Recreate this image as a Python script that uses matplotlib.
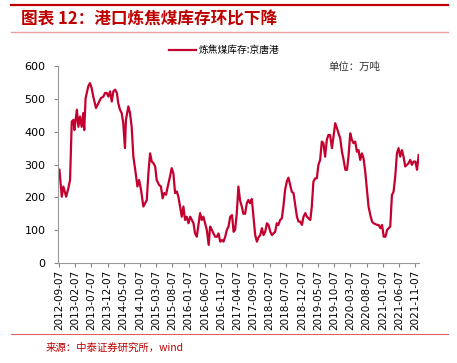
import matplotlib
matplotlib.use("Agg")
import matplotlib.pyplot as plt
import pandas as pd

plt.rcParams['font.family'] = ['Noto Sans CJK SC', 'DejaVu Sans']

# 炼焦煤库存:京唐港 (万吨)
dates = [
    "2012-09-10", "2012-10-02", "2012-10-17", "2012-11-12", "2012-12-03", "2012-12-19",
    "2013-01-04", "2013-01-20", "2013-01-29", "2013-02-21", "2013-03-07", "2013-03-22",
    "2013-04-07", "2013-04-22", "2013-05-01", "2013-05-14", "2013-06-08", "2013-06-24",
    "2013-07-10", "2013-07-25", "2013-08-20", "2013-09-11", "2013-10-04", "2013-10-28",
    "2013-11-13", "2013-11-29", "2013-12-14", "2013-12-30", "2014-01-15", "2014-01-30",
    "2014-02-16", "2014-03-04", "2014-03-17", "2014-04-02", "2014-04-18", "2014-05-03",
    "2014-05-19", "2014-05-28", "2014-06-20", "2014-07-05", "2014-07-21", "2014-08-06",
    "2014-08-28", "2014-09-13", "2014-09-29", "2014-10-17", "2014-11-08", "2014-11-24",
    "2014-12-10", "2014-12-25", "2015-01-10", "2015-01-26", "2015-02-11", "2015-02-27",
    "2015-03-13", "2015-04-04", "2015-04-22", "2015-05-08", "2015-05-23", "2015-06-09",
    "2015-06-25", "2015-07-16", "2015-08-01", "2015-08-17", "2015-09-02", "2015-09-18",
    "2015-10-03", "2015-10-19", "2015-11-04", "2015-11-19", "2015-12-05", "2015-12-21",
    "2016-01-06", "2016-01-22", "2016-02-07", "2016-02-22", "2016-03-08", "2016-03-24",
    "2016-04-08", "2016-04-24", "2016-05-10", "2016-05-25", "2016-06-10", "2016-06-26",
    "2016-07-14", "2016-07-27", "2016-08-13", "2016-08-28", "2016-09-13", "2016-09-29",
    "2016-10-14", "2016-10-30", "2016-11-15", "2016-11-30", "2016-12-16", "2017-01-01",
    "2017-01-16", "2017-02-01", "2017-02-18", "2017-03-05", "2017-03-19", "2017-04-04",
    "2017-04-19", "2017-05-05", "2017-05-21", "2017-06-05", "2017-06-21", "2017-07-07",
    "2017-07-22", "2017-08-07", "2017-08-23", "2017-09-08", "2017-09-24", "2017-10-10",
    "2017-10-25", "2017-11-10", "2017-11-26", "2017-12-11", "2017-12-27", "2018-01-12",
    "2018-01-27", "2018-02-13", "2018-03-01", "2018-03-14", "2018-03-30", "2018-04-15",
    "2018-04-30", "2018-05-16", "2018-06-01", "2018-06-16", "2018-07-02", "2018-07-18",
    "2018-08-02", "2018-08-18", "2018-09-03", "2018-09-19", "2018-10-05", "2018-10-21",
    "2018-11-05", "2018-11-21", "2018-12-07", "2018-12-22", "2019-01-08", "2019-01-23",
    "2019-02-08", "2019-02-24", "2019-03-10", "2019-03-25", "2019-04-10", "2019-04-26",
    "2019-05-11", "2019-05-27", "2019-06-12", "2019-06-27", "2019-07-13", "2019-07-29",
    "2019-08-13", "2019-08-29", "2019-09-15", "2019-09-30", "2019-10-16", "2019-11-01",
    "2019-11-16", "2019-12-02", "2019-12-18", "2020-01-03", "2020-01-19", "2020-02-04",
    "2020-02-19", "2020-03-05", "2020-03-21", "2020-04-05", "2020-04-21", "2020-05-07",
    "2020-05-22", "2020-06-07", "2020-06-23", "2020-07-08", "2020-07-24", "2020-08-09",
    "2020-08-24", "2020-09-10", "2020-09-26", "2020-10-11", "2020-11-12", "2020-11-27",
    "2020-12-13", "2020-12-29", "2021-01-14", "2021-01-30", "2021-02-15", "2021-03-02",
    "2021-03-16", "2021-04-01", "2021-04-16", "2021-05-02", "2021-05-18", "2021-06-02",
    "2021-06-18", "2021-07-04", "2021-07-19", "2021-08-04", "2021-08-20", "2021-09-04",
    "2021-09-20", "2021-10-06", "2021-10-21", "2021-11-07", "2021-11-23", "2021-12-08",
]
stock = [
    284, 202, 233, 202, 228, 253,
    431, 436, 405, 467, 415, 446,
    415, 457, 405, 502, 538, 548,
    533, 507, 472, 487, 502, 507,
    518, 518, 507, 523, 492, 523,
    528, 518, 487, 467, 457, 426,
    350, 436, 477, 457, 415, 324,
    273, 233, 253, 223, 172, 182,
    192, 273, 334, 309, 304, 294,
    253, 238, 233, 197, 213, 208,
    233, 263, 289, 273, 213, 218,
    202, 172, 141, 172, 131, 141,
    121, 141, 131, 121, 90, 80,
    116, 152, 131, 141, 121, 101,
    55, 111, 101, 90, 80, 80,
    90, 65, 70, 65, 80, 101,
    111, 141, 146, 95, 101, 152,
    233, 190, 172, 150, 150, 182,
    192, 182, 195, 141, 85, 65,
    78, 85, 106, 85, 95, 121,
    116, 95, 85, 90, 95, 121,
    116, 131, 136, 172, 223, 248,
    260, 238, 217, 213, 177, 141,
    126, 126, 116, 141, 152, 141,
    136, 131, 172, 248, 258, 258,
    299, 314, 370, 365, 324, 375,
    390, 390, 350, 385, 426, 411,
    395, 380, 339, 314, 284, 284,
    329, 395, 375, 365, 370, 339,
    344, 314, 334, 319, 279, 223,
    172, 146, 126, 121, 116, 116,
    106, 116, 80, 80, 101, 106,
    111, 207, 217, 263, 334, 350,
    324, 344, 324, 294, 299, 304,
    314, 299, 309, 309, 284, 329,
]
y_ticks = [0, 100, 200, 300, 400, 500, 600]
x_ticks = pd.date_range("2012-09-07", periods=23, freq=pd.DateOffset(months=5))

line_red = "#C4002F"
deco_red = "#C00000"

fig = plt.figure(figsize=(4.57, 3.63), dpi=100)
ax = fig.add_axes([0.127, 0.2755, 0.79, 0.5425])

ax.plot(pd.to_datetime(dates), stock, color=line_red, lw=1.6, label="炼焦煤库存:京唐港")

ax.set_ylim(0, 600)
ax.set_yticks(y_ticks)
ax.set_xlim(pd.Timestamp("2012-08-28"), pd.Timestamp("2021-12-12"))
ax.set_xticks(x_ticks)
ax.set_xticklabels([d.strftime("%Y-%m-%d") for d in x_ticks], rotation=90,
                   fontsize=7.5, family="DejaVu Sans")
ax.tick_params(axis="y", labelsize=8, length=3, color="#888888", pad=6)
ax.tick_params(axis="x", length=3, color="#888888", pad=2)
for lab in ax.get_yticklabels():
    lab.set_family("DejaVu Sans")

for s in ["top", "right"]:
    ax.spines[s].set_visible(False)
for s in ["left", "bottom"]:
    ax.spines[s].set_color("#999999")
    ax.spines[s].set_linewidth(0.8)

ax.legend(loc="center", bbox_to_anchor=(0.46, 1.08), frameon=False,
          fontsize=7, handlelength=2.8, handletextpad=0.3)

# header and footer decorations
fig.add_artist(plt.Line2D([0.024, 0.98], [0.986, 0.986], color=deco_red, lw=1.6))
fig.add_artist(plt.Line2D([0.024, 0.98], [0.912, 0.912], color="#E8A0A0", lw=1.0))
fig.text(0.047, 0.947, "图表 12：港口炼焦煤库存环比下降", color=deco_red,
         fontsize=12, fontweight="bold", style="italic", va="center")
fig.text(0.718, 0.815, "单位：万吨", fontsize=7.5, color="#333333", va="center")
fig.add_artist(plt.Line2D([0.024, 0.98], [0.08, 0.08], color="#E06060", lw=0.8))
fig.text(0.1, 0.043, "来源：中泰证券研究所，wind", color=deco_red, fontsize=7.5, va="center")

fig.savefig("out.png", dpi=100)
